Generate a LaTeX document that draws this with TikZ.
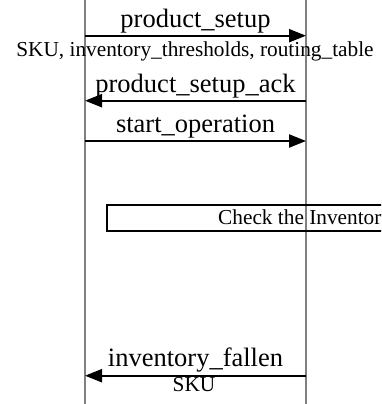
\documentclass[tikz,border=0pt]{standalone}
\usepackage{fontspec}
\setmainfont{Liberation Serif}
\usetikzlibrary{arrows.meta}
\tikzset{
  lifeline/.style={draw=gray, line width=1.5pt},
  msg/.style={draw=black, line width=2.2pt, -{Triangle[length=17pt,width=13pt]}},
  biglabel/.style={anchor=base, inner sep=0pt, font=\fontsize{26.5}{28}\selectfont},
  smalllabel/.style={anchor=base, inner sep=0pt, font=\fontsize{21.3}{23}\selectfont},
  boxstyle/.style={draw=black, line width=2.2pt}
}
\begin{document}
\begin{tikzpicture}[x=1pt, y=-1pt]
\useasboundingbox (0,0) rectangle (381,404);
\clip (0,0) rectangle (381,404);
% lifelines
\coordinate (LT) at (85,0);
\coordinate (LB) at (85,404);
\coordinate (RT) at (306,0);
\coordinate (RB) at (306,404);
\draw[lifeline] (LT) -- (LB);
\draw[lifeline] (RT) -- (RB);
% product_setup
\coordinate (m1l) at (85,35.7);
\coordinate (m1r) at (306,35.7);
\draw[msg] (m1l) -- (m1r);
\node[biglabel] (t1) at (195.5,28) {product\_setup};
\node[smalllabel] (s1) at (195,56.5) {SKU, inventory\_thresholds, routing\_table};
% product_setup_ack
\coordinate (m2l) at (85,100.7);
\coordinate (m2r) at (306,100.7);
\draw[msg] (m2r) -- (m2l);
\node[biglabel] (t2) at (195.5,92.7) {product\_setup\_ack};
% start_operation
\coordinate (m3l) at (85,141);
\coordinate (m3r) at (306,141);
\draw[msg] (m3l) -- (m3r);
\node[biglabel] (t3) at (195.5,132.7) {start\_operation};
% box
\coordinate (b1) at (107,205);
\coordinate (b2) at (395,230.7);
\draw[boxstyle] (b1) rectangle (b2);
\node[smalllabel, anchor=base west] (bt) at (218,224.3) {Check the Inventor};
% inventory_fallen
\coordinate (m4l) at (85,375.7);
\coordinate (m4r) at (306,375.7);
\draw[msg] (m4r) -- (m4l);
\node[biglabel] (t4) at (195.5,366.7) {inventory\_fallen};
\node[smalllabel] (s4) at (194,391) {SKU};
\end{tikzpicture}
\end{document}
